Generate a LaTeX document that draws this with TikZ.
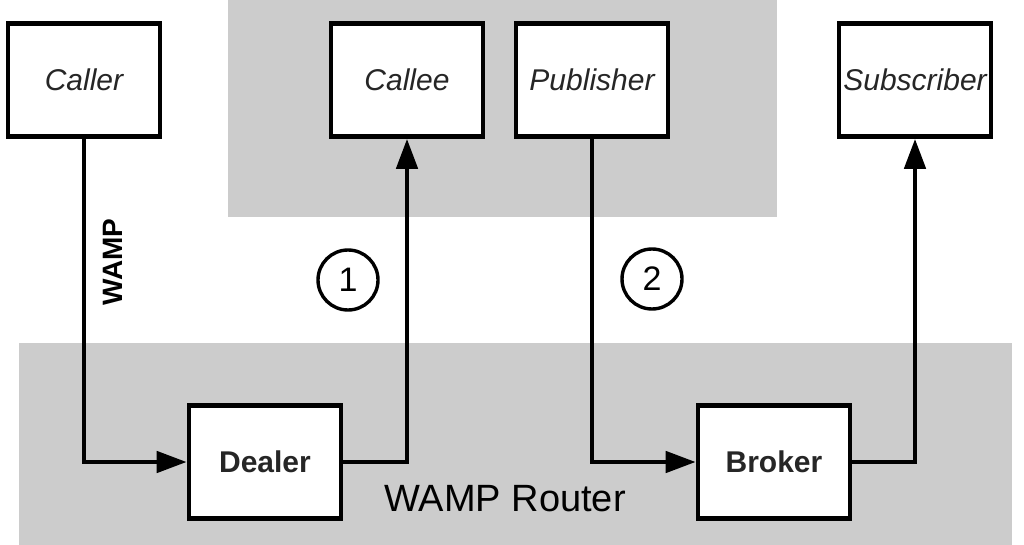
\documentclass[tikz,border=0pt]{standalone}
\usepackage{fontspec}
\setmainfont{Liberation Sans}
\usetikzlibrary{arrows.meta, positioning}

\begin{document}
\begin{tikzpicture}[x=1pt, y=-1pt, line width=4.6pt,
                  -{Triangle[length=30pt,width=21pt]},
                  role/.style={draw, fill=white, -, minimum width=152pt,
                  minimum height=113pt, inner sep=0pt, text=black!85,
                  font=\fontsize{30}{30}\selectfont\itshape},
                  router/.style={role, font=\fontsize{30}{30}\selectfont\bfseries},
                  step_no/.style={draw, circle, -, line width=3.4pt, minimum size=60pt,
                  inner sep=0pt, font=\fontsize{34}{34}\selectfont}]

                  \useasboundingbox (0,0) rectangle (1024,545);

                  % Zonas grises de fondo.
                  \fill[black!20] (228,0) rectangle (777,217);
                  \fill[black!20] (19,343) rectangle (1012,545);

                  % Asignamos los roles y los routers.
                  \node[role] (caller) at (84,80) {Caller};
                  \node[role] (callee) at (407,80) {Callee};
                  \node[role] (pub) at (592,80) {Publisher};
                  \node[role] (sub) at (915,80) {Subscriber};
                  \node[router] (dealer) at (265,462) {Dealer};
                  \node[router] (broker) at (774,462) {Broker};

                  % Etiquetas.
                  \node[rotate=90, font=\fontsize{28}{28}\selectfont\bfseries]
                  (wamp) at (113,262) {WAMP};
                  \node[font=\fontsize{38}{38}\selectfont] (rt) at (505,499)
                  {WAMP Router};
                  \node[step_no] (s1) at (348,280) {1};
                  \node[step_no] (s2) at (652,279) {2};

                  % Dibujamos las conexiones.
                  \draw (caller.south) |- (dealer.west);
                  \draw (dealer.east) -| (callee.south);
                  \draw (pub.south) |- (broker.west);
                  \draw (broker.east) -| (sub.south);

                \end{tikzpicture}
\end{document}
